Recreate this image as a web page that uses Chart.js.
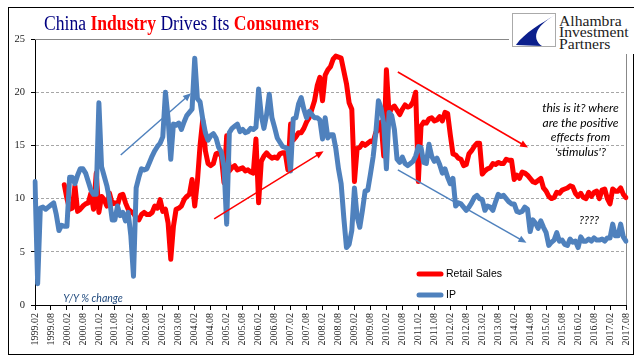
<!DOCTYPE html>
<html>
<head>
<meta charset="utf-8">
<script src="https://cdn.jsdelivr.net/npm/chart.js@4.4.1/dist/chart.umd.min.js"></script>
<style>
  body { margin: 0; background: #fff; }
  #wrap { position: relative; width: 641px; height: 361px; overflow: hidden; background: #fff; }
  #chart { position: absolute; left: 0; top: 0; }
  .frame { position: absolute; left: 8px; top: 7px; width: 624px; height: 346px; border: 1px solid #000; }
  .title { position: absolute; left: 44px; top: 13px; font-family: "Liberation Serif", serif; font-size: 20px; line-height: 20px;
           white-space: nowrap; transform: scaleX(0.88); transform-origin: left top; color: #000080; }
  .title b { color: #ff0000; }
  .logoCover { position: absolute; left: 509px; top: 8px; width: 132px; height: 46px; background: #fff; }
  .logoBox { position: absolute; left: 512px; top: 13px; }
  .logoText { position: absolute; left: 559px; top: 16px; font-family: "Liberation Serif", serif; font-size: 14.5px;
              line-height: 11.3px; color: #222; white-space: nowrap; transform: scaleX(1.08); transform-origin: left top; }
  .note { position: absolute; font-family: Lato, sans-serif; font-style: italic; color: #000; text-align: center; white-space: nowrap; }
</style>
</head>
<body>
<div id="wrap">
  <canvas id="chart" width="641" height="361"></canvas>
  <div class="frame"></div>
  <div class="logoCover"></div>
  <svg class="logoBox" width="44" height="34">
    <rect x="0.5" y="0.5" width="43" height="33" fill="#fff" stroke="#aaa"/>
    <path d="M43,2 C30,10 12,20 4,32 L30,33 C20,26 22,14 43,2 Z" fill="#0b1f8c"/>
  </svg>
  <div class="logoText">Alhambra<br>Investment<br>Partners</div>
  <div class="title">China <b>Industry</b> Drives Its <b>Consumers</b></div>
  <div class="note" style="left:530px; top:101px; width:101px; font-size:12px; line-height:14.7px;">this is it? where<br>are the positive<br>effects from<br>'stimulus'?</div>
  <div class="note" style="left:569px; top:213px; width:40px; font-size:12px; line-height:14px;">????</div>
  <div class="note" style="left:43px; top:291px; width:100px; font-size:10.5px; line-height:14px; color:#1f497d;">Y/Y % change</div>
</div>
<script>
// monthly categories 1999.02 - 2017.08
const startYear = 1999;
const startMonth = 2;
const monthCount = 223;
const months = [];
for (let i = 0; i < monthCount; i++) {
    const m = (startMonth - 1 + i) % 12 + 1;
    const yr = startYear + Math.floor((startMonth - 1 + i) / 12);
    months.push(yr + '.' + String(m).padStart(2, '0'));
}

const retailSales = [
    null, null, null, null, null, null, null, null, null, null,
    null, 11.3, 10.0, 9.0, 9.1, 11.2, 8.8, 9.0, 9.3, 9.5,
    9.6, 10.5, 9.0, 12.4, 8.7, 10.2, 9.9, 9.3, 10.5, 9.5,
    9.6, 9.4, 10.3, 10.4, 9.6, 9.0, 8.8, 8.6, 8.2, 8.0,
    8.5, 8.7, 8.5, 8.5, 8.7, 9.3, 9.1, 9.9, 8.8, 9.0,
    7.7, 4.3, 7.4, 9.0, 9.1, 9.3, 9.9, 10.2, 10.4, 11.8,
    9.3, 11.6, 15.0, 17.4, 14.5, 13.3, 13.1, 13.3, 14.2, 14.3,
    14.0, 11.5, 15.9, 12.6, 12.9, 13.1, 12.7, 12.8, 12.9, 12.6,
    12.7, 12.5, 12.4, 15.6, 9.6, 13.5, 14.0, 14.3, 14.0, 13.8,
    13.9, 13.8, 14.2, 14.3, 14.3, 12.7, 17.0, 15.5, 15.8, 16.2,
    16.2, 16.6, 17.2, 17.6, 18.4, 19.2, 20.6, 21.4, 19.2, 21.6,
    22.1, 22.4, 23.1, 23.4, 23.3, 23.2, 22.0, 20.8, 19.0, 18.4,
    11.6, 14.7, 14.8, 15.2, 15.0, 15.2, 15.4, 15.3, 16.2, 16.5,
    17.2, 14.0, 22.1, 18.0, 18.5, 18.7, 18.3, 17.9, 18.4, 18.8,
    18.6, 18.7, 19.1, 20.0, 11.6, 16.8, 17.2, 17.1, 17.5, 17.6,
    17.3, 17.4, 17.7, 17.3, 18.1, 18.0, 16.0, 14.2, 14.1, 13.8,
    13.7, 13.1, 13.2, 14.2, 14.5, 14.9, 15.2, 15.2, 12.3, 12.6,
    12.8, 12.9, 13.3, 13.2, 13.4, 13.3, 13.3, 13.7, 13.6, 13.6,
    11.8, 12.2, 11.9, 12.5, 12.4, 12.2, 11.9, 11.6, 11.5, 11.7,
    11.9, 11.0, 10.7, 10.2, 10.0, 10.1, 10.6, 10.5, 10.8, 10.9,
    11.0, 11.2, 11.1, 10.5, 10.2, 10.5, 10.1, 10.0, 10.6, 10.2,
    10.6, 10.7, 10.0, 10.8, 10.9, 10.0, 9.5, 10.9, 10.7, 10.7,
    11.0, 10.4, 10.1
];

const industrialProduction = [
    11.6, 2.0, 9.1, 9.2, 9.0, 9.2, 9.4, 9.6, 8.5, 7.0,
    7.5, 7.4, 7.4, 12.0, 12.0, 11.4, 12.2, 12.8, 12.8, 12.4,
    11.6, 10.8, 10.4, 10.4, 19.0, 13.0, 12.1, 11.2, 9.9, 8.0,
    8.0, 9.3, 8.4, 8.7, 7.9, 8.7, 6.5, 2.7, 11.0, 12.0,
    12.8, 12.7, 12.8, 13.4, 14.0, 14.5, 14.9, 15.2, 15.8, 20.0,
    17.5, 13.7, 17.0, 16.9, 17.1, 16.5, 17.2, 17.8, 18.1, 18.4,
    23.2, 19.4, 19.1, 17.5, 16.2, 15.5, 15.9, 16.1, 15.7, 14.8,
    14.4, 13.0, 7.6, 16.2, 16.6, 16.8, 17.0, 16.3, 16.5, 16.2,
    16.3, 16.6, 16.5, 16.7, 20.3, 17.8, 16.6, 17.9, 19.8, 17.6,
    16.7, 15.7, 15.3, 14.9, 14.8, 14.7, 12.6, 17.5, 17.6, 18.9,
    19.5, 18.4, 17.6, 18.2, 17.9, 17.6, 17.6, 17.4, 15.6, 17.6,
    15.7, 16.0, 16.0, 14.7, 12.8, 11.4, 8.2, 5.4, 5.7, 7.0,
    11.0, 8.3, 7.3, 8.9, 10.7, 10.8, 12.3, 13.9, 16.1, 19.2,
    18.5, 17.0, 12.8, 18.1, 17.8, 16.5, 13.7, 13.4, 13.9, 13.3,
    13.1, 13.3, 13.5, 14.0, 14.9, 14.8, 13.4, 13.3, 15.1, 14.0,
    13.5, 13.8, 13.2, 12.4, 12.8, 12.0, 11.4, 11.9, 9.3, 9.6,
    9.5, 9.2, 8.9, 9.2, 9.6, 10.1, 10.3, 10.0, 9.9, 8.9,
    9.3, 9.2, 8.9, 9.7, 10.4, 10.2, 10.3, 10.0, 9.7, 9.5,
    9.5, 8.8, 8.7, 8.8, 9.2, 9.0, 6.9, 8.0, 7.7, 7.2,
    7.9, 7.3, 6.8, 5.6, 5.9, 6.1, 6.8, 6.0, 6.1, 5.7,
    5.6, 6.2, 5.9, 6.0, 5.4, 6.4, 6.0, 6.0, 6.2, 6.0,
    6.3, 6.1, 6.1, 6.2, 6.0, 6.3, 6.3, 7.6, 6.5, 6.5,
    7.6, 6.4, 6.0
];

const yTicks = [0, 5, 10, 15, 20, 25];
const RED = '#ff0000';
const BLUE = '#4f81bd';

// trend arrows, [category index, value]
const arrows = [
    { from: [32.2, 14.1], to: [58.6, 19.9], color: BLUE },
    { from: [67.3, 8.1], to: [108.4, 14.45], color: RED },
    { from: [136.3, 21.9], to: [185.2, 14.8], color: RED },
    { from: [136.3, 12.7], to: [184.6, 5.85], color: BLUE }
];

const decorations = {
    id: 'decorations',
    beforeDatasetsDraw(chart) {
        const { ctx, chartArea: a } = chart;
        ctx.save();
        ctx.strokeStyle = '#888';
        ctx.lineWidth = 1;
        ctx.beginPath();
        ctx.moveTo(a.left, Math.round(a.top) + 0.5);
        ctx.lineTo(a.right, Math.round(a.top) + 0.5);
        ctx.moveTo(Math.round(a.right) + 0.5, a.top);
        ctx.lineTo(Math.round(a.right) + 0.5, a.bottom);
        ctx.stroke();
        ctx.restore();
    },
    afterDatasetsDraw(chart) {
        const { ctx } = chart;
        const xs = chart.scales.x, ys = chart.scales.y;
        ctx.save();
        arrows.forEach(ar => {
            const x1 = xs.getPixelForValue(ar.from[0]), y1 = ys.getPixelForValue(ar.from[1]);
            const x2 = xs.getPixelForValue(ar.to[0]), y2 = ys.getPixelForValue(ar.to[1]);
            const ang = Math.atan2(y2 - y1, x2 - x1);
            ctx.strokeStyle = ar.color;
            ctx.fillStyle = ar.color;
            ctx.lineWidth = 1.5;
            ctx.beginPath();
            ctx.moveTo(x1, y1);
            ctx.lineTo(x2 - 6 * Math.cos(ang), y2 - 6 * Math.sin(ang));
            ctx.stroke();
            ctx.beginPath();
            ctx.moveTo(x2, y2);
            ctx.lineTo(x2 - 8 * Math.cos(ang) + 3.5 * Math.sin(ang), y2 - 8 * Math.sin(ang) - 3.5 * Math.cos(ang));
            ctx.lineTo(x2 - 8 * Math.cos(ang) - 3.5 * Math.sin(ang), y2 - 8 * Math.sin(ang) + 3.5 * Math.cos(ang));
            ctx.closePath();
            ctx.fill();
        });

        // legend inside the plot, lower right
        ctx.font = '10.5px "Liberation Sans", Arial, sans-serif';
        ctx.textBaseline = 'middle';
        chart.data.datasets.forEach((ds, i) => {
            const ly = 274 + i * 21;
            ctx.strokeStyle = ds.borderColor;
            ctx.lineWidth = 5;
            ctx.lineCap = 'round';
            ctx.beginPath();
            ctx.moveTo(419, ly);
            ctx.lineTo(441, ly);
            ctx.stroke();
            ctx.fillStyle = '#000';
            ctx.fillText(ds.label, 446, ly + 0.5);
        });
        ctx.restore();
    }
};

new Chart(document.getElementById('chart'), {
    type: 'line',
    data: {
        labels: months,
        datasets: [
            {
                label: 'Retail Sales',
                data: retailSales,
                borderColor: RED,
                backgroundColor: RED,
                borderWidth: 5,
                pointRadius: 0,
                tension: 0,
                borderJoinStyle: 'round',
                borderCapStyle: 'round',
                order: 1
            },
            {
                label: 'IP',
                data: industrialProduction,
                borderColor: BLUE,
                backgroundColor: BLUE,
                borderWidth: 5,
                pointRadius: 0,
                tension: 0,
                borderJoinStyle: 'round',
                borderCapStyle: 'round',
                order: 0
            }
        ]
    },
    options: {
        responsive: false,
        animation: false,
        devicePixelRatio: 1,
        layout: { padding: { left: 0, top: 39, right: 15, bottom: 0 } },
        plugins: {
            legend: { display: false },
            tooltip: { enabled: false }
        },
        scales: {
            x: {
                offset: false,
                afterFit: scale => { scale.height = 56; },
                border: { display: true, color: '#000', width: 1 },
                grid: {
                    drawOnChartArea: false,
                    drawTicks: true,
                    tickLength: 5,
                    tickColor: ctx => (ctx.index % 6 === 0 ? '#000' : 'rgba(0,0,0,0)')
                },
                ticks: {
                    autoSkip: false,
                    minRotation: 90,
                    maxRotation: 90,
                    padding: 3,
                    color: '#222',
                    font: { family: '"Liberation Serif", serif', size: 10 },
                    callback: function (val, idx) {
                        return idx % 6 === 0 ? this.getLabelForValue(val) : '';
                    }
                }
            },
            y: {
                min: yTicks[0],
                max: yTicks[yTicks.length - 1],
                afterFit: scale => { scale.width = 35; },
                afterBuildTicks: scale => { scale.ticks = yTicks.map(v => ({ value: v })); },
                border: { display: true, color: '#000', width: 1, dash: [3, 2] },
                grid: {
                    color: ctx => (ctx.tick && (ctx.tick.value === 0 || ctx.tick.value === 25) ? 'rgba(0,0,0,0)' : '#a6a6a6'),
                    lineWidth: 1,
                    tickLength: 4,
                    tickColor: '#000'
                },
                ticks: {
                    padding: 6,
                    color: '#222',
                    font: { family: '"Liberation Serif", serif', size: 10.5 }
                }
            }
        }
    },
    plugins: [decorations]
});
</script>
</body>
</html>
